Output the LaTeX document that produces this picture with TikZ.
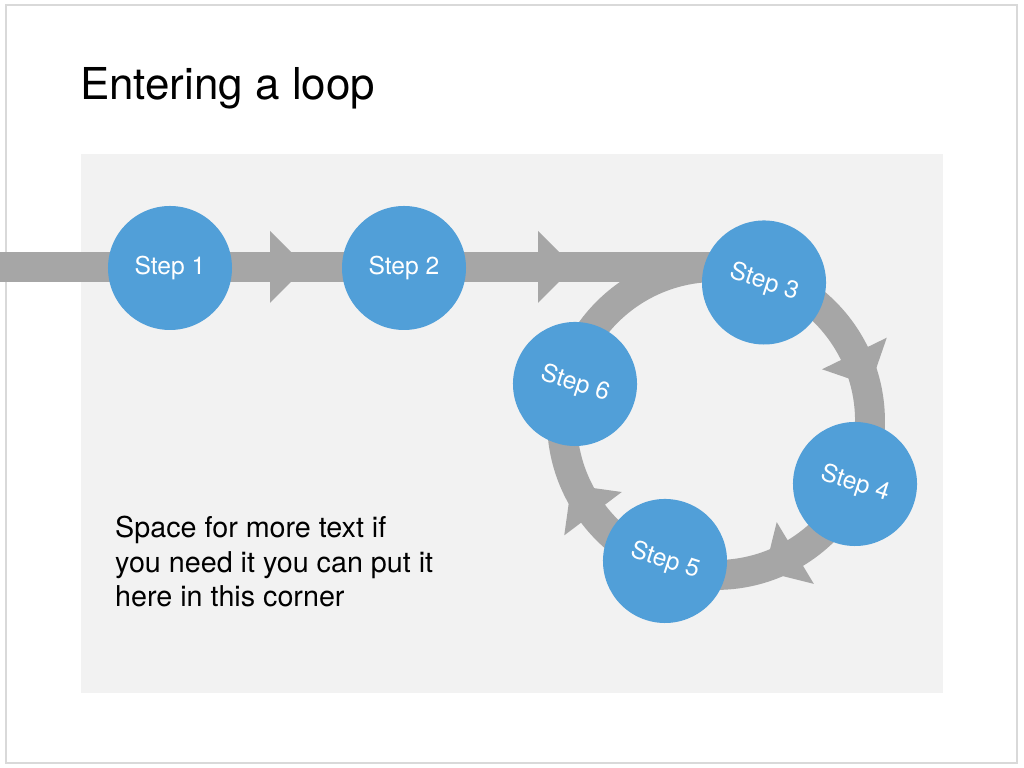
\documentclass[tikz,border=0pt]{standalone}
\usepackage{fontspec}
\setmainfont{TeX Gyre Heros}
\usepackage{xcolor}
\usetikzlibrary{positioning, calc}
\definecolor{loopBlue}{HTML}{519FD8}
\definecolor{loopGray}{HTML}{A6A6A6}
\definecolor{loopPanel}{HTML}{F2F2F2}
\definecolor{loopFrame}{HTML}{D9D9D9}

\begin{document}
\begin{tikzpicture}[x=0.03cm,y=0.03cm,
  stepnode/.style={circle,fill=loopBlue,text=white,minimum size=3.72cm,inner sep=0pt,font=\fontsize{21}{25}\selectfont},
  band/.style={loopGray,line width=25.5pt}]
\newcommand{\loophead}[3]{%
  \fill[loopGray,shift={(#1,#2)},rotate=#3] (0,36) -- (36,0) -- (0,-36) -- cycle;
}
\useasboundingbox (0,0) rectangle (1024,768);
\draw[loopFrame,line width=1.7pt] (6,5) rectangle (1017,763);
\fill[loopPanel] (81,75) rectangle (943,614);
\node[anchor=base west,font=\fontsize{37.5}{45}\selectfont,inner sep=0pt] (title) at (80,668) {Entering a loop};

\coordinate (entry) at (0,501);
\coordinate (centre) at (716,347);
\coordinate (looptop) at (716,501);
\draw[band] (entry) -- (looptop);
\draw[band] (centre) circle[radius=154];

\loophead{270}{501}{0}
\loophead{538}{501}{0}
\loophead{854.4}{414.5}{-64}
\loophead{795.3}{215}{-149}
\loophead{593}{254.3}{127}

\node[stepnode] (step1) at (170,500) {Step 1};
\node[stepnode] (step2) at (404,500) {Step 2};
\node[stepnode,rotate=-18] (step3) at (764,485.5) {Step 3};
\node[stepnode,rotate=-18] (step4) at (855,284) {Step 4};
\node[stepnode,rotate=-18] (step5) at (665,207) {Step 5};
\node[stepnode,rotate=-18] (step6) at (575,384) {Step 6};

\node[anchor=north west,align=left,inner sep=0pt,font=\fontsize{24.5}{29.5}\selectfont] (note) at (115,252) {Space for more text if\\you need it you can put it\\here in this corner};
\end{tikzpicture}
\end{document}
